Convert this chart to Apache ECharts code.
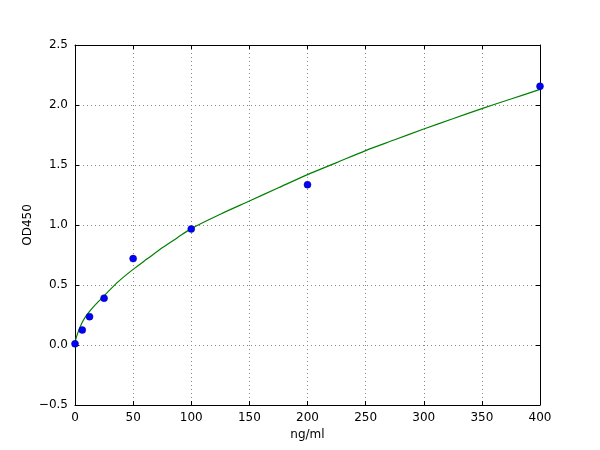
<!DOCTYPE html>
<html><head><meta charset="utf-8">
<script src="https://cdn.jsdelivr.net/npm/echarts@6/dist/echarts.min.js"></script>
<style>html,body{margin:0;padding:0;background:#fff}#c{width:600px;height:450px}</style>
</head><body><div id="c"></div>
<script>
const pointX = [0, 6.25, 12.5, 25, 50, 100, 200, 400];
const pointY = [0.01, 0.125, 0.236, 0.39, 0.72, 0.967, 1.336, 2.156];
const curveX = [0, 1, 2, 4, 6.25, 9, 12.5, 18, 25, 37.5, 50, 62.5, 75, 87.5, 100, 125, 150, 175, 200, 225, 250, 275, 300, 325, 350, 375, 400];
const curveY = [0.02, 0.06, 0.09, 0.14, 0.19, 0.235, 0.28, 0.34, 0.41, 0.53, 0.63, 0.72, 0.81, 0.89, 0.97, 1.09, 1.20, 1.31, 1.42, 1.52, 1.62, 1.71, 1.80, 1.885, 1.97, 2.05, 2.13];
const xTicks = {min: 0, max: 400, interval: 50};
const yTicks = {min: -0.5, max: 2.5, interval: 0.5};
const yName = 'OD450';

const font = 'DejaVu Sans';
const chart = echarts.init(document.getElementById('c'), null, {renderer: 'canvas'});
const fmtY = v => v.toFixed(1).replace('-', '\u2212');
const common = {
  axisLine: {show: true, onZero: false, lineStyle: {color: '#000', width: 1}},
  axisTick: {show: true, inside: true, length: 4, lineStyle: {color: '#000'}},
};
chart.setOption({
  animation: false,
  textStyle: {fontFamily: font},
  grid: {left: 75, right: 60, top: 45, bottom: 45, show: false},
  graphic: [{
    type: 'text', x: 28, y: 225, rotation: Math.PI / 2,
    style: {text: yName, font: '12px "DejaVu Sans"', fill: '#000', align: 'center', verticalAlign: 'middle'}
  }],
  xAxis: [
    Object.assign({
      type: 'value', min: xTicks.min, max: xTicks.max, interval: xTicks.interval,
      name: 'ng/ml', nameLocation: 'middle', nameGap: 22,
      nameTextStyle: {fontFamily: font, fontSize: 12, color: '#000'},
      axisLabel: {fontFamily: font, fontSize: 12, color: '#000', margin: 7},
      splitLine: {show: true, lineStyle: {color: '#888', type: [1, 3], width: 1}}
    }, common),
    Object.assign({
      type: 'value', position: 'top', min: xTicks.min, max: xTicks.max, interval: xTicks.interval,
      axisLabel: {show: false}, splitLine: {show: false}
    }, common)
  ],
  yAxis: [
    Object.assign({
      type: 'value', min: yTicks.min, max: yTicks.max, interval: yTicks.interval,
      axisLabel: {fontFamily: font, fontSize: 12, color: '#000', margin: 7, formatter: fmtY},
      splitLine: {show: true, lineStyle: {color: '#888', type: [1, 3], width: 1}}
    }, common),
    Object.assign({
      type: 'value', position: 'right', min: yTicks.min, max: yTicks.max, interval: yTicks.interval,
      axisLabel: {show: false}, splitLine: {show: false}
    }, common)
  ],
  series: [
    {
      type: 'line', xAxisIndex: 0, yAxisIndex: 0,
      data: curveX.map((x, i) => [x, curveY[i]]),
      smooth: 0.3, showSymbol: false, symbol: 'none',
      lineStyle: {color: '#008000', width: 1.2}, z: 2
    },
    {
      type: 'scatter', xAxisIndex: 0, yAxisIndex: 0,
      data: pointX.map((x, i) => [x, pointY[i]]),
      symbol: 'circle', symbolSize: 7,
      itemStyle: {color: '#0000ff', opacity: 1, borderColor: '#000080', borderWidth: 0.5}, z: 3
    }
  ]
});
</script></body></html>
